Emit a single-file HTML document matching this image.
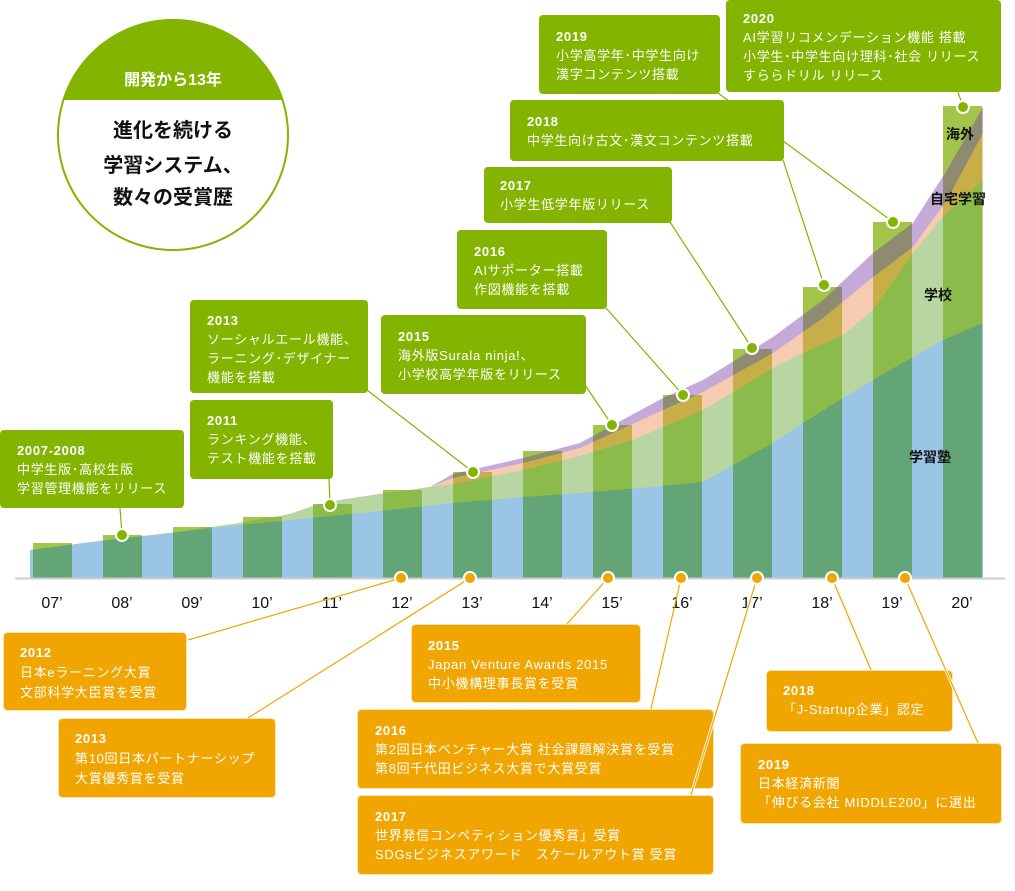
<!DOCTYPE html>
<html><head><meta charset="utf-8"><style>
html,body{margin:0;padding:0;background:#fff;}
svg{display:block;font-family:"Liberation Sans","Noto Sans CJK JP",sans-serif;}
.bt{fill:#fff;font-size:13px;letter-spacing:0.7px;}
.bt .y{font-weight:bold;}
.lab{font-size:14px;font-weight:bold;fill:#111;}
.yr{font-size:16px;fill:#111;}
</style></head><body>
<svg width="1015" height="891" viewBox="0 0 1015 891" xmlns="http://www.w3.org/2000/svg">
<defs>
<clipPath id="bars">
<rect x="33" y="543" width="39" height="35"/><rect x="103" y="535" width="39" height="43"/>
<rect x="173" y="527" width="39" height="51"/><rect x="243" y="517" width="39" height="61"/>
<rect x="313" y="504" width="39" height="74"/><rect x="383" y="490" width="39" height="88"/>
<rect x="453" y="472" width="39" height="106"/><rect x="523" y="451" width="39" height="127"/>
<rect x="593" y="425" width="39" height="153"/><rect x="663" y="395" width="39" height="183"/>
<rect x="733" y="349" width="39" height="229"/><rect x="803" y="287" width="39" height="291"/>
<rect x="873" y="222" width="39" height="356"/><rect x="943" y="106" width="39" height="472"/>
</clipPath>
<g id="lav"><polygon points="30,578 30,550 100,541 170,533 240,523 290,514 313,506 340,500 380,494 430,487 453,474 523,458 580,443 663,398 703,380 773,337 823,300 873,253 913,223 947,170 983,107 983,578"/></g>
<g id="pea"><polygon points="30,578 30,550 100,541 170,533 240,523 290,514 313,506 340,500 380,494 430,487 453,478 523,463 580,448 663,410 703,392 773,353 823,318 873,277 913,247 947,200 983,133 983,578"/></g>
<g id="lg"><polygon points="30,578 30,550 100,541 170,533 240,523 290,514 313,506 340,500 380,494 453,484 523,470 580,456 633,440 703,410 773,368 803,353 843,335 873,310 913,253 943,217 983,180 983,578"/></g>
<g id="bl"><polygon points="30,578 30,550 100,541 170,533 240,525 310,518 380,511 453,503 523,497 580,493 640,488 703,482 733,465 773,443 803,423 843,398 873,380 913,357 943,340 983,323 983,578"/></g>
</defs>

<use href="#lav" fill="#c5a9d8"/><use href="#pea" fill="#f6cbb0"/><use href="#lg" fill="#b8d6a2"/><use href="#bl" fill="#9ac5e5"/>
<g clip-path="url(#bars)">
<rect x="0" y="0" width="1015" height="600" fill="#a3c64a"/>
<use href="#lav" fill="#8f8b73"/><use href="#pea" fill="#c8ae48"/><use href="#lg" fill="#8bbb4a"/><use href="#bl" fill="#63a577"/>
</g>
<line x1="15" y1="578.5" x2="1005" y2="578.5" stroke="#ccc" stroke-width="2"/>

<text class="lab" x="946" y="139">海外</text>
<text class="lab" x="930" y="204">自宅学習</text>
<text class="lab" x="924" y="300">学校</text>
<text class="lab" x="909" y="462">学習塾</text>

<g class="yr" text-anchor="middle">
<text x="52" y="608">07’</text><text x="122" y="608">08’</text><text x="192" y="608">09’</text><text x="262" y="608">10’</text>
<text x="332" y="608">11’</text><text x="402" y="608">12’</text><text x="472" y="608">13’</text><text x="542" y="608">14’</text>
<text x="612" y="608">15’</text><text x="682" y="608">16’</text><text x="752" y="608">17’</text><text x="822" y="608">18’</text>
<text x="892" y="608">19’</text><text x="962" y="608">20’</text>
</g>

<circle cx="173" cy="135" r="115" fill="#fff" stroke="#82b400" stroke-width="2"/>
<clipPath id="cc"><circle cx="173" cy="135" r="116"/></clipPath>
<rect x="50" y="15" width="250" height="85" fill="#82b400" clip-path="url(#cc)"/>
<text x="173" y="85" text-anchor="middle" fill="#fff" font-size="16" font-weight="bold">開発から13年</text>
<g text-anchor="middle" font-size="20" font-weight="bold" fill="#111">
<text x="173" y="137">進化を続ける</text>
<text x="173" y="172">学習システム、</text>
<text x="173" y="204">数々の受賞歴</text>
</g>

<g stroke="#82b400" stroke-width="1.2" fill="none">
<line x1="120" y1="508" x2="122" y2="535"/>
<line x1="329" y1="479" x2="330" y2="505"/>
<line x1="367" y1="390" x2="473" y2="472"/>
<line x1="585" y1="385" x2="612" y2="425"/>
<line x1="606" y1="308" x2="683" y2="395"/>
<line x1="670" y1="222" x2="752" y2="348"/>
<line x1="783" y1="160" x2="824" y2="285"/>
<line x1="718" y1="93" x2="893" y2="222" stroke="#fff" stroke-width="3"/>
<line x1="718" y1="93" x2="893" y2="222"/>
<line x1="958" y1="92" x2="963" y2="107"/>
</g>

<g fill="#82b400">
<rect x="0" y="430" width="184" height="78" rx="4"/>
<rect x="190" y="400" width="143" height="79" rx="4"/>
<rect x="190" y="300" width="178" height="93" rx="4"/>
<rect x="381" y="315" width="205" height="79" rx="4"/>
<rect x="457" y="230" width="150" height="79" rx="4"/>
<rect x="484" y="167" width="188" height="56" rx="4"/>
<rect x="510" y="100" width="274" height="61" rx="4"/>
<rect x="539" y="15" width="181" height="79" rx="4"/>
<rect x="726" y="0" width="275" height="92" rx="4"/>
</g>
<g class="bt">
<text x="17" y="455"><tspan class="y">2007-2008</tspan><tspan x="17" dy="19">中学生版･高校生版</tspan><tspan x="17" dy="19">学習管理機能をリリース</tspan></text>
<text x="207" y="425"><tspan class="y">2011</tspan><tspan x="207" dy="19">ランキング機能、</tspan><tspan x="207" dy="19">テスト機能を搭載</tspan></text>
<text x="207" y="325"><tspan class="y">2013</tspan><tspan x="207" dy="19">ソーシャルエール機能、</tspan><tspan x="207" dy="19">ラーニング･デザイナー</tspan><tspan x="207" dy="19">機能を搭載</tspan></text>
<text x="398" y="341"><tspan class="y">2015</tspan><tspan x="398" dy="19">海外版Surala ninja!、</tspan><tspan x="398" dy="19">小学校高学年版をリリース</tspan></text>
<text x="474" y="256"><tspan class="y">2016</tspan><tspan x="474" dy="19">AIサポーター搭載</tspan><tspan x="474" dy="19">作図機能を搭載</tspan></text>
<text x="500" y="190"><tspan class="y">2017</tspan><tspan x="500" dy="19">小学生低学年版リリース</tspan></text>
<text x="527" y="126"><tspan class="y">2018</tspan><tspan x="527" dy="19">中学生向け古文･漢文コンテンツ搭載</tspan></text>
<text x="556" y="41"><tspan class="y">2019</tspan><tspan x="556" dy="19">小学高学年･中学生向け</tspan><tspan x="556" dy="19">漢字コンテンツ搭載</tspan></text>
<text x="743" y="23"><tspan class="y">2020</tspan><tspan x="743" dy="19">AI学習リコメンデーション機能 搭載</tspan><tspan x="743" dy="19">小学生･中学生向け理科･社会 リリース</tspan><tspan x="743" dy="19">すららドリル リリース</tspan></text>
</g>

<g fill="#82b400" stroke="#fff" stroke-width="2">
<circle cx="122" cy="535" r="6"/><circle cx="330" cy="505" r="6"/><circle cx="473" cy="472" r="6"/>
<circle cx="612" cy="425" r="6"/><circle cx="683" cy="395" r="6"/><circle cx="752" cy="348" r="6"/>
<circle cx="824" cy="285" r="6"/><circle cx="893" cy="222" r="6"/><circle cx="963" cy="107" r="6"/>
</g>

<g fill="#f0a500" stroke="#fbe3a8" stroke-width="1">
<rect x="3.5" y="632.5" width="183" height="78" rx="4"/>
<rect x="58.5" y="718.5" width="217" height="79" rx="4"/>
<rect x="411.5" y="624.5" width="229" height="78" rx="4"/>
<rect x="357.5" y="709.5" width="356" height="79" rx="4"/>
<rect x="357.5" y="795.5" width="356" height="79" rx="4"/>
<rect x="766.5" y="670.5" width="186" height="61" rx="4"/>
<rect x="740.5" y="743.5" width="261" height="80" rx="4"/>
</g>
<g stroke="#f0a500" stroke-width="1.2" fill="none">
<line x1="401" y1="578" x2="188" y2="640"/>
<line x1="470" y1="578" x2="248" y2="718"/>
<line x1="608" y1="578" x2="567" y2="624"/>
<line x1="681" y1="578" x2="651" y2="709"/>
<line x1="757" y1="578" x2="691" y2="795" stroke="#fff" stroke-width="3"/>
<line x1="757" y1="578" x2="691" y2="795"/>
<line x1="832" y1="578" x2="871" y2="670"/>
<line x1="905" y1="578" x2="978" y2="743" stroke="#fff" stroke-width="3"/>
<line x1="905" y1="578" x2="978" y2="743"/>
</g>
<g fill="#f0a500" stroke="#fff" stroke-width="2">
<circle cx="401" cy="578" r="6"/><circle cx="470" cy="578" r="6"/><circle cx="608" cy="578" r="6"/>
<circle cx="681" cy="578" r="6"/><circle cx="757" cy="578" r="6"/><circle cx="832" cy="578" r="6"/><circle cx="905" cy="578" r="6"/>
</g>
<g class="bt">
<text x="20" y="657"><tspan class="y">2012</tspan><tspan x="20" dy="20">日本eラーニング大賞</tspan><tspan x="20" dy="20">文部科学大臣賞を受賞</tspan></text>
<text x="75" y="743"><tspan class="y">2013</tspan><tspan x="75" dy="20">第10回日本パートナーシップ</tspan><tspan x="75" dy="20">大賞優秀賞を受賞</tspan></text>
<text x="428" y="650"><tspan class="y">2015</tspan><tspan x="428" dy="19">Japan Venture Awards 2015</tspan><tspan x="428" dy="19">中小機構理事長賞を受賞</tspan></text>
<text x="375" y="735"><tspan class="y">2016</tspan><tspan x="375" dy="19">第2回日本ベンチャー大賞 社会課題解決賞を受賞</tspan><tspan x="375" dy="19">第8回千代田ビジネス大賞で大賞受賞</tspan></text>
<text x="375" y="821"><tspan class="y">2017</tspan><tspan x="375" dy="19">世界発信コンペティション優秀賞」受賞</tspan><tspan x="375" dy="19">SDGsビジネスアワード　スケールアウト賞 受賞</tspan></text>
<text x="783" y="695"><tspan class="y">2018</tspan><tspan x="783" dy="19">「J-Startup企業」認定</tspan></text>
<text x="758" y="769"><tspan class="y">2019</tspan><tspan x="758" dy="19">日本経済新聞</tspan><tspan x="758" dy="19">「伸びる会社 MIDDLE200」に選出</tspan></text>
</g>
</svg>
</body></html>
